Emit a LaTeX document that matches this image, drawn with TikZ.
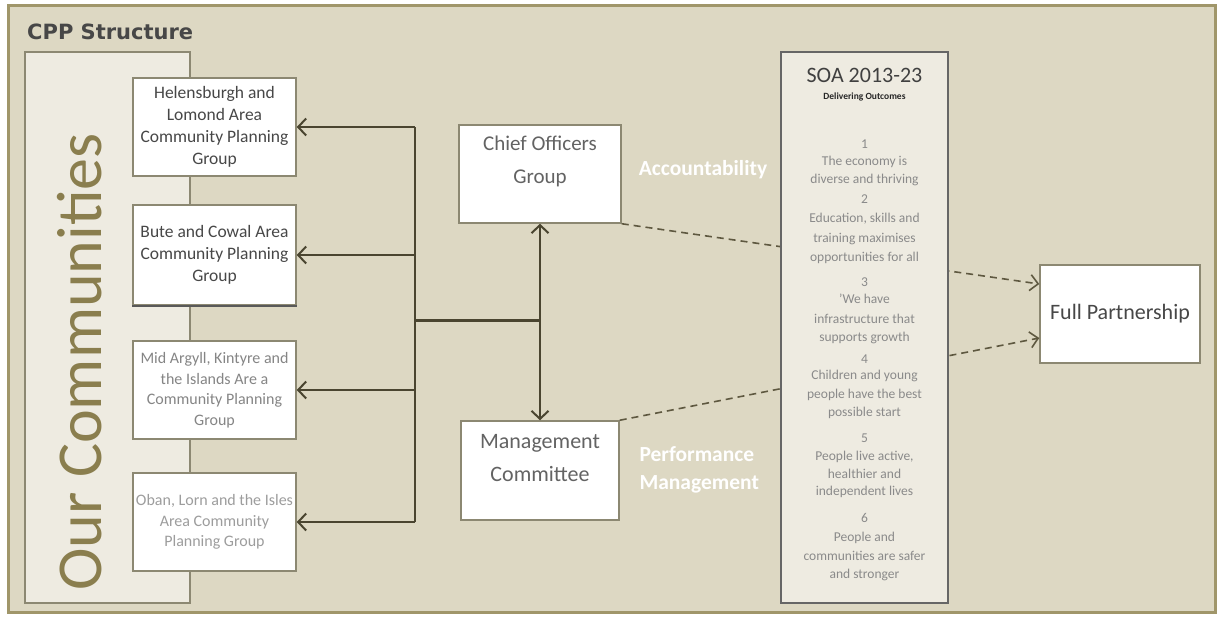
\documentclass[tikz,border=0pt]{standalone}
\usepackage{fontspec}
\setmainfont{Carlito}
\newfontfamily\hdfont{DejaVu Sans}
\usetikzlibrary{arrows.meta,calc}
\definecolor{bg}{HTML}{DDD8C3}
\definecolor{panel}{HTML}{EEEBE1}
\definecolor{frame}{HTML}{A0966A}
\definecolor{boxline}{HTML}{8C8872}
\definecolor{arrowc}{HTML}{4A4530}
\definecolor{olive}{HTML}{8A7E4E}
\definecolor{txtdark}{HTML}{474747}
\definecolor{txtmid}{HTML}{858585}
\definecolor{txtsoa}{HTML}{8A8A8A}
\definecolor{dashc}{HTML}{5E5840}
\begin{document}
\begin{tikzpicture}[x=1pt,y=-1pt,
  grp/.style={draw=boxline, line width=1.5pt, fill=white, minimum width=163pt, minimum height=98pt, align=center, inner sep=1pt},
  grpdark/.style={grp, text=txtdark, font=\fontsize{17.5}{22}\selectfont},
  grplight/.style={grp, text=txtmid, font=\fontsize{16}{20.5}\selectfont},
  midbox/.style={draw=boxline, line width=1.5pt, fill=white, minimum width=162pt, minimum height=98pt},
  midtxt/.style={text=txtdark!85, align=center, font=\fontsize{21}{33}\selectfont, anchor=north, inner sep=0pt},
  whitetxt/.style={text=white, font=\bfseries\fontsize{21.5}{28}\selectfont},
  soat/.style={text=txtsoa, font=\fontsize{13.5}{16}\selectfont, anchor=base, inner sep=0pt},
  arr/.style={draw=arrowc, line width=2pt, -{Straight Barb[length=8pt,width=17pt,line width=2pt]}},
  busline/.style={draw=arrowc, line width=2pt},
  dashline/.style={draw=dashc, line width=1.6pt, dash pattern=on 7pt off 5pt, -{Straight Barb[length=8pt,width=16pt,line width=1.6pt]}}
]
\useasboundingbox (0,0) rectangle (1219,618);
% outer frame
\draw[draw=frame, line width=3pt, fill=bg] (8,6) rectangle (1215,612);
\node[anchor=west, inner sep=0pt, text=txtdark, font=\hdfont\bfseries\fontsize{21}{24}\selectfont] (title) at (27,32) {CPP Structure};
% communities panel
\node[draw=boxline, line width=1.5pt, fill=panel, minimum width=165pt, minimum height=551pt, inner sep=0pt] (pan) at (107.5,327.5) {};
\node[rotate=90, text=olive, inner sep=0pt, font=\fontsize{64}{64}\selectfont] (oc) at (80,362) {Our Communities};
% area groups
\node[grpdark] (h1) at (214.5,127) {Helensburgh and\\Lomond Area\\Community Planning\\Group};
\node[grpdark, minimum height=100pt] (h2) at (214.5,255) {Bute and Cowal Area\\Community Planning\\Group};
\draw[draw=black!65, line width=2.5pt] (h2.south west) -- (h2.south east);
\node[grplight] (h3) at (214.5,390) {Mid Argyll, Kintyre and\\the Islands Are a\\Community Planning\\Group};
\node[grplight, text=txtmid!80] (h4) at (214.5,522) {Oban, Lorn and the Isles\\Area Community\\Planning Group};
% chief officers and management
\node[midbox] (co) at (540,174) {};
\node[midtxt] (cot) at ($(co.north)+(0,11)$) {Chief Officers\\Group};
\node[midbox, minimum width=158pt, minimum height=99pt] (mc) at (540,470.5) {};
\node[midtxt, font=\fontsize{22}{33}\selectfont] (mct) at ($(mc.north)+(0,14)$) {Management\\Committee};
\node[whitetxt] (acc) at (703,170) {Accountability};
\node[whitetxt, anchor=west, align=left] (pm) at (636,470) {Performance\\Management};
% full partnership
\node[draw=boxline, line width=1.5pt, fill=white, minimum width=160pt, minimum height=98pt, text=txtdark, font=\fontsize{22}{26}\selectfont] (fp) at (1120,314) {Full Partnership};
% dashed links (behind SOA box)
\draw[dashline] (co.south east) -- ($(fp.west)+(0,-30)$);
\draw[dashline] (mc.north east) -- ($(fp.west)+(0,24)$);
% SOA box
\node[draw=black!60, line width=2pt, fill=panel, minimum width=167pt, minimum height=551pt, inner sep=0pt] (soa) at (864.5,327.5) {};
\node[text=black!75, font=\fontsize{22}{24}\selectfont, inner sep=0pt] (soat) at (864.5,75) {SOA 2013-23};
\node[text=black!85, font=\bfseries\fontsize{9.5}{11}\selectfont, inner sep=0pt] (soas) at (864.5,97) {Delivering Outcomes};
\foreach \yy/\tt [count=\i] in {143/1, 160/{The economy is}, 178/{diverse and thriving}, 198/2, 217/{Education, skills and}, 237/{training maximises}, 256/{opportunities  for all}, 281/3, 298/{'We have}, 318/{infrastructure that}, 336/{supports growth}, 358/4, 374/{Children and young}, 393/{people have the best}, 411/{possible start}, 437/5, 455/{People live active,}, 473/{healthier and}, 490/{independent lives}, 517/6, 536/{People and}, 555/{communities are safer}, 573/{and stronger}}
  \node[soat] (s\i) at (864.5,\yy+5) {\tt};
% bus and arrows
\coordinate (bus) at (415,0);
\coordinate (junc) at (540,320);
\draw[busline] (h1.east -| bus) -- (h4.east -| bus);
\foreach \b in {h1,h2,h3,h4} \draw[arr] (\b.east -| bus) -- (\b.east);
\draw[draw=arrowc, line width=3pt] (junc -| bus) -- (junc);
\draw[arr, {Straight Barb[length=8pt,width=17pt,line width=2pt]}-{Straight Barb[length=8pt,width=17pt,line width=2pt]}] (co.south) -- (mc.north);
\end{tikzpicture}
\end{document}
